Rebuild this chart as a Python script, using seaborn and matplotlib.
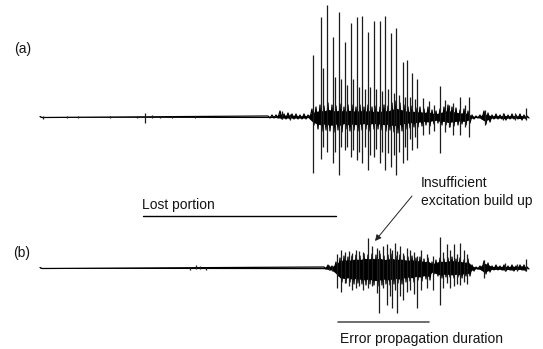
import matplotlib
matplotlib.use("Agg")
import matplotlib.pyplot as plt
import numpy as np
import pandas as pd
import seaborn as sns

# ---------------- data (time in ms, amplitude in arbitrary units) ----------------
# (a) original speech segment: dense body envelope (upper / lower) on a 4 ms grid
a_env_t = [0] + list(range(228, 485, 4)) + [487]
a_env_hi = [0.5,
            1, 2, 2, 6, 3, 4, 3, 3, 2, 3, 2, 8, 10, 12, 11, 14, 12, 11, 13, 10,
            12, 12, 10, 12, 10, 12, 10, 11, 10, 12, 11, 14, 16, 14, 12, 10, 11, 9,
            10, 8, 10, 7, 6, 8, 10, 12, 10, 9, 7, 8, 6, 2, 1, 2, 6, 4, 2, 3,
            2, 3, 2, 3, 2, 3, 2,
            1]
a_env_lo = [0.5,
            1, 1, 1, 2, 2, 2, 2, 2, 2, 2, 1, 8, 12, 14, 13, 14, 15, 13, 15, 12,
            14, 13, 14, 13, 12, 14, 12, 12, 13, 14, 13, 15, 16, 14, 12, 11, 10, 10,
            9, 8, 9, 7, 6, 8, 8, 10, 9, 8, 7, 8, 6, 2, 1, 2, 7, 5, 2, 2,
            2, 3, 2, 2, 2, 3, 2,
            1]
# (a) pitch pulses / spikes: time, peak above and below the baseline
a_spk_t = [3, 27, 38, 70, 97, 105, 112, 120, 132, 155, 242, 250,
           273, 280.5, 287, 292.5, 299, 305, 311, 316.5, 322.3, 327.7, 334, 339.5,
           345.3, 351.3, 356.3, 362.7, 367, 372, 377, 383, 389, 394, 400, 405,
           409, 413, 420, 425, 429, 445, 463, 475, 486,
           283, 295, 301, 307, 313, 319, 325, 330, 336, 342, 348, 354, 359, 365,
           370, 375]
a_spk_up = [1, 1, 1, 1, 1, 4, 2, 1, 1, 1, 6, 3,
            62, 100, 112, 80, 105, 75, 94, 100, 101, 85, 96, 96,
            101, 84, 89, 55, 57, 44, 38, 19, 16, 12, 31, 17,
            12, 14, 20, 12, 20, 7, 4, 4, 9,
            49, 40, 38, 32, 38, 30, 28, 30, 28, 26, 28, 24, 22, 20,
            20, 18]
a_spk_dn = [2, 1, 1, 1, 1, 6, 1, 1, 1, 1, 2, 3,
            56, 42, 35, 46, 58, 33, 40, 43, 46, 53, 40, 46,
            53, 50, 58, 46, 43, 33, 31, 18, 17, 14, 36, 15,
            10, 18, 18, 10, 20, 8, 3, 3, 3,
            30, 35, 30, 30, 33, 35, 30, 38, 32, 35, 36, 38, 35, 30,
            22, 20]

# (b) reconstructed speech after the lost portion
b_env_t = [0] + list(range(284, 485, 4)) + [487]
b_env_hi = [0.5,
            1, 3, 2, 6, 10, 12, 11, 12, 13, 12, 14, 13, 14, 13, 14, 12, 13, 14,
            12, 13, 12, 11, 12, 10, 11, 9, 10, 6, 8, 10, 9, 10, 11, 9, 10, 8,
            9, 3, 1, 2, 7, 5, 2, 3, 2, 3, 2, 3, 2, 3, 3,
            1]
b_env_lo = [0.5,
            1, 2, 3, 8, 14, 15, 14, 16, 15, 16, 17, 16, 17, 18, 17, 16, 17, 16,
            15, 16, 14, 13, 14, 12, 13, 11, 12, 6, 8, 10, 9, 9, 10, 9, 10, 8,
            8, 3, 1, 2, 6, 4, 2, 2, 2, 3, 2, 3, 2, 2, 3,
            1]
b_spk_t = [150, 156, 160, 166, 289, 292,
           297, 301, 305, 309, 312, 316, 319, 323, 328, 332, 337, 339, 343, 347,
           350, 352, 355, 357, 360, 363, 367, 370, 374, 377, 381, 387, 393, 400,
           403, 407, 410, 414, 417, 420, 424, 427, 444, 465, 477, 486]
b_spk_up = [1, 3, 2, 1, 3, 2,
            14, 18, 16, 17, 15, 18, 17, 16, 30, 22, 20, 18, 22, 24,
            20, 18, 25, 17, 22, 15, 20, 18, 16, 12, 18, 14, 12, 31,
            16, 24, 18, 24, 14, 25, 18, 14, 8, 5, 4, 9]
b_spk_dn = [2, 1, 1, 2, 2, 3,
            20, 24, 15, 18, 22, 20, 18, 22, 20, 18, 25, 45, 20, 37,
            28, 40, 22, 45, 28, 32, 24, 22, 26, 40, 22, 20, 22, 37,
            20, 15, 20, 18, 16, 17, 14, 16, 10, 3, 3, 3]

signal_names = ["(a)", "(b)"]
signal_offset = [0, -151]
core_fraction = [0.55, 0.7]

lost_span = [103, 296]
error_span = [298, 389]

# ---------------- drawing ----------------
sns.set_theme(style="white")
plt.rcParams["font.family"] = ["Liberation Sans", "DejaVu Sans"]

fig = plt.figure(figsize=(5.43, 3.49), dpi=100)
ax = fig.add_axes([0, 0, 1, 1])
ax.set_xlim(-40, 503)
ax.set_ylim(-232, 117)
ax.axis("off")

signals = [
    (a_env_t, a_env_hi, a_env_lo, a_spk_t, a_spk_up, a_spk_dn),
    (b_env_t, b_env_hi, b_env_lo, b_spk_t, b_spk_up, b_spk_dn),
]

for (et, ehi, elo, st, sup, sdn), off, cf in zip(signals, signal_offset,
                                                  core_fraction):
    et = np.asarray(et, float)
    hi = np.asarray(ehi, float)
    lo = np.asarray(elo, float)
    # waveform trace: each grid cell swings to its upper then its lower extreme
    zz_t = np.column_stack([et, et + 2]).ravel()
    zz_y = np.column_stack([off + hi, off - lo]).ravel()
    wave = pd.DataFrame({"t": zz_t, "amp": zz_y})
    sns.lineplot(data=wave, x="t", y="amp", sort=False, estimator=None,
                 color="black", lw=0.9, ax=ax, legend=False)
    # dense core of the voiced part
    ax.fill_between(et, off - cf * lo, off + cf * hi, color="black", lw=0)
    st = np.asarray(st, float)
    ax.vlines(st, off - np.asarray(sdn, float), off + np.asarray(sup, float),
              color="#1c1c1c", lw=0.9)

txt = dict(color="#141414", fontsize=10)
ax.text(-26, 68, signal_names[0], ha="left", va="center", **txt)
ax.text(-27, -136, signal_names[1], ha="left", va="center", **txt)

# Lost portion
ax.text(lost_span[0] - 1, -88, "Lost portion", ha="left", va="center", **txt)
ax.plot(lost_span, [-99, -99], color="black", lw=1.0)

# Insufficient excitation build up
ax.text(381, -66, "Insufficient", ha="left", va="center", **txt)
ax.text(381, -84, "excitation build up", ha="left", va="center", **txt)
ax.annotate("", xy=(335, -124), xytext=(372, -79),
            arrowprops=dict(arrowstyle="-|>", color="#222222", lw=0.7,
                            mutation_scale=9, shrinkA=0, shrinkB=0))

# Error propagation duration
ax.plot(error_span, [-205, -205], color="#555555", lw=1.2)
ax.text(error_span[0] + 2, -222, "Error propagation duration", ha="left",
        va="center", **txt)

fig.savefig("out.png", dpi=100)
